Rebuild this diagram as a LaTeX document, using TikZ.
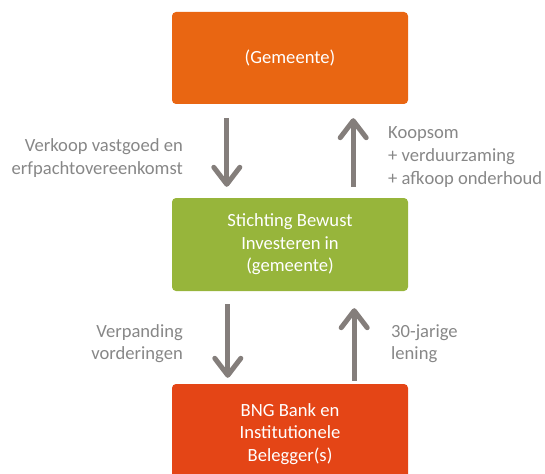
\documentclass[tikz,border=0pt]{standalone}
\usepackage{fontspec}
\setmainfont{Carlito}
\usetikzlibrary{arrows.meta}
\definecolor{cOrange}{RGB}{233,102,18}
\definecolor{cGreen}{RGB}{151,181,59}
\definecolor{cRed}{RGB}{228,69,22}
\definecolor{cArrow}{RGB}{132,126,123}
\definecolor{cText}{RGB}{135,135,135}
\tikzset{
  box/.style={rounded corners=4pt, minimum width=236pt, text=white, align=center, inner sep=0pt,
    font=\fontsize{18.6}{22.6}\selectfont},
  lbl/.style={text=cText, inner sep=0pt, font=\fontsize{18.6}{22.6}\selectfont},
  flow/.style={draw=cArrow, line width=5pt, -{Straight Barb[length=17pt,width=26pt,round]}}
}
\begin{document}
\begin{tikzpicture}[x=1pt,y=-1pt]
\useasboundingbox (0,0) rectangle (545,473);
\node[box, fill=cOrange, minimum height=92pt] (top) at (290,58) {(Gemeente)};
\node[box, fill=cGreen, minimum height=93pt] (mid) at (290,244.5) {Stichting Bewust\\Investeren in\\(gemeente)};
\node[box, fill=cRed, minimum height=100pt] (bot) at (290,434) {BNG Bank en\\Institutionele\\Belegger(s)};
\draw[flow, shorten <=14pt, shorten >=11pt] ([xshift=55pt]top.south west) -- ([xshift=55pt]mid.north west);
\draw[flow, shorten <=11pt, shorten >=14pt] ([xshift=-55pt]mid.north east) -- ([xshift=-55pt]top.south east);
\draw[flow, shorten <=13pt, shorten >=6pt] ([xshift=56pt]mid.south west) -- ([xshift=56pt]bot.north west);
\draw[flow, shorten <=3pt, shorten >=17pt] ([xshift=-54pt]bot.north east) -- ([xshift=-54pt]mid.south east);
\node[lbl, anchor=east, align=right] (l1) at (183,158) {Verkoop vastgoed en\\erfpachtovereenkomst};
\node[lbl, anchor=west, align=left] (r1) at (388,157) {Koopsom\\+ verduurzaming\\+ afkoop onderhoud};
\node[lbl, anchor=east, align=right] (l2) at (183,343.5) {Verpanding\\vorderingen};
\node[lbl, anchor=west, align=left] (r2) at (391,343.5) {30-jarige\\lening};
\end{tikzpicture}
\end{document}
